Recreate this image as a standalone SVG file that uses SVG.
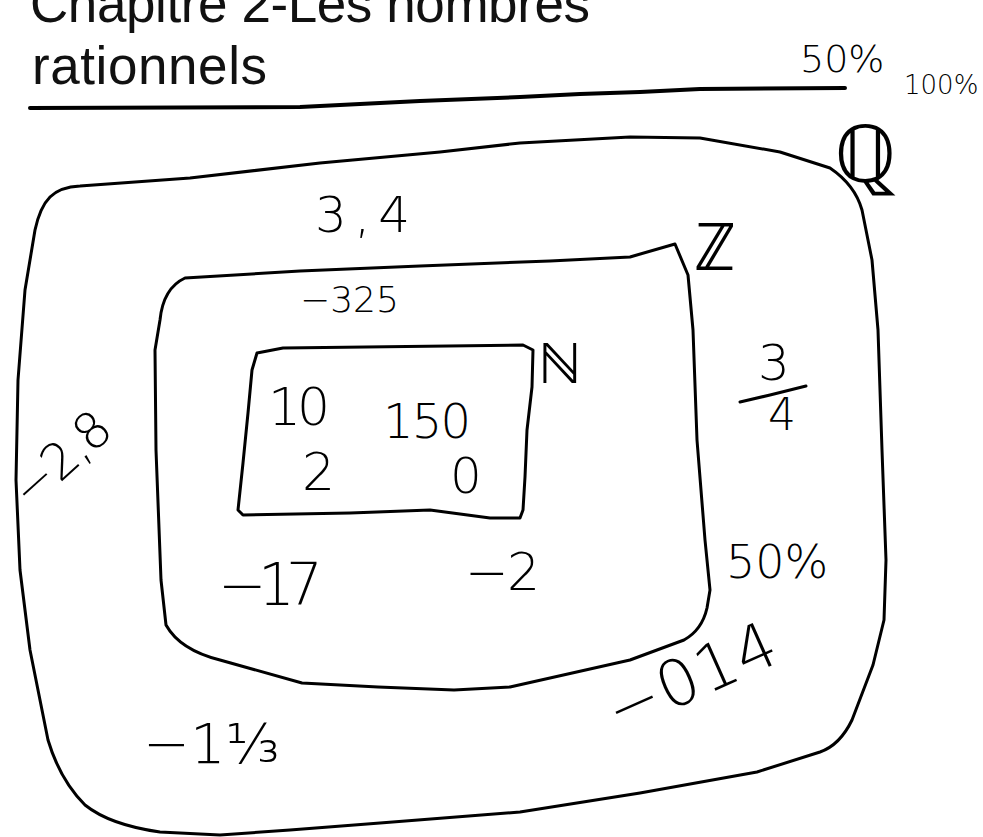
<svg xmlns="http://www.w3.org/2000/svg" width="983" height="837" viewBox="0 0 983 837">
<style>
.title{font-family:"Liberation Sans",Arial,sans-serif;font-size:53px;fill:#111}
.hw{font-family:"DejaVu Sans","Liberation Sans",sans-serif;font-weight:200;fill:#000}
.line{fill:none;stroke:#000;stroke-width:3;stroke-linejoin:round;stroke-linecap:round}
</style>
<rect width="983" height="837" fill="#fff"/>
<g id="title">
<text class="title" x="30" y="22" textLength="560">Chapitre 2-Les nombres</text>
<text class="title" x="32" y="84" textLength="235">rationnels</text>
<path class="line" style="stroke-width:4" d="M30,108 L300,107 L420,101 L520,97 L580,94 L640,92 L700,89 L845,88"/>
<text class="hw" x="800" y="72" font-size="38">50%</text>
<text class="hw" x="904" y="94" font-size="26">100%</text>
</g>
<g id="set-Q">
<path class="line" d="M50,197 Q60,187 80,186 L190,178 L320,163 L440,152 L520,143 L630,137 L700,138 L780,152 L830,168 Q855,185 862,210 L872,260 L878,330 L882,450 L886,560 L884,620 L873,665 L852,720 Q840,745 820,752 L757,772 L640,793 L520,812 L380,823 L290,830 L220,835 L160,832 Q110,825 85,805 Q60,780 48,740 L30,650 L20,570 L16,480 L18,380 L25,290 L35,230 Q40,207 50,197 Z"/>
<text class="hw" x="834" y="182" font-size="80">ℚ</text>
<text class="hw" x="315" y="232" font-size="50" textLength="95">3,4</text>
<g transform="translate(30,510) rotate(-42)"><text class="hw" x="0" y="0" font-size="50" textLength="115">−2,8</text></g>
<text class="hw" x="758" y="380" font-size="50">3</text>
<path class="line" d="M740,402 L770,395 L806,386"/>
<text class="hw" x="768" y="430" font-size="44">4</text>
<text class="hw" x="726" y="578" font-size="46">50%</text>
<g transform="translate(618,734) rotate(-24)"><text class="hw" x="0" y="0" font-size="64" textLength="180">−014</text></g>
<text class="hw" x="143" y="763" font-size="56">−1⅓</text>
</g>
<g id="set-Z">
<path class="line" d="M160,320 C162,300 170,285 185,278 L300,271 L420,266 L550,261 L630,257 L675,244 L688,275 L693,330 L697,440 L705,540 L710,590 L707,608 Q702,630 684,640 L630,660 L510,687 L454,690 L378,687 L302,683 L220,660 Q180,650 166,625 L161,580 L156,450 L155,350 Z"/>
<text class="hw" x="694" y="270" font-size="66">ℤ</text>
<text class="hw" x="300" y="312" font-size="36">−325</text>
<text class="hw" x="218" y="605" font-size="58" textLength="105">−17</text>
<text class="hw" x="465" y="590" font-size="52" textLength="75">−2</text>
</g>
<g id="set-N">
<path class="line" d="M257,353 L283,348 L523,345 L533,350 L532,387 L527,430 L525,477 L523,510 L520,518 L490,518 L430,510 L377,512 L350,513 L243,515 L238,510 L243,463 L248,413 L252,370 Z"/>
<text class="hw" x="538" y="383" font-size="56">ℕ</text>
<text class="hw" x="268" y="425" font-size="52" textLength="62">10</text>
<text class="hw" x="383" y="438" font-size="48" textLength="88">150</text>
<text class="hw" x="450" y="493" font-size="50">0</text>
<text class="hw" x="302" y="490" font-size="52">2</text>
</g>
<g id="connectors"></g>
</svg>
